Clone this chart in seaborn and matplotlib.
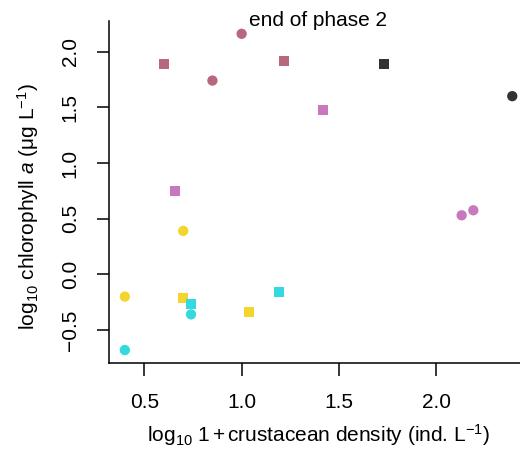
import matplotlib
matplotlib.use("Agg")
import matplotlib.pyplot as plt
import seaborn as sns
import pandas as pd

# ---- data ----
x_vals = [0.60, 1.22, 1.00, 0.85,
          1.73, 2.39,
          1.42, 0.66, 2.13, 2.19,
          0.70, 1.04, 0.70, 0.40,
          0.74, 1.19, 0.74, 0.40]
y_vals = [1.89, 1.92, 2.16, 1.74,
          1.89, 1.60,
          1.48, 0.75, 0.53, 0.575,
          -0.21, -0.34, 0.39, -0.20,
          -0.27, -0.16, -0.36, -0.68]
groups = ["rose"] * 4 + ["black"] * 2 + ["pink"] * 4 + ["yellow"] * 4 + ["cyan"] * 4
shapes = ["square", "square", "circle", "circle",
          "square", "circle",
          "square", "square", "circle", "circle",
          "square", "square", "circle", "circle",
          "square", "square", "circle", "circle"]
palette = {"rose": "#b8687c", "black": "#333333", "pink": "#c878bf",
           "yellow": "#f3d52e", "cyan": "#33d9df"}
x_ticks = [0.5, 1.0, 1.5, 2.0]
y_ticks = [-0.5, 0.0, 0.5, 1.0, 1.5, 2.0]
title = "end of phase 2"

df = pd.DataFrame({"x": x_vals, "y": y_vals, "group": groups, "shape": shapes})

sns.set_theme(style="white")
plt.rcParams["font.family"] = ["Liberation Sans", "DejaVu Sans"]
plt.rcParams["mathtext.fontset"] = "custom"
plt.rcParams["mathtext.rm"] = "Liberation Sans"
plt.rcParams["mathtext.it"] = "Liberation Sans:italic"
plt.rcParams["mathtext.sf"] = "Liberation Sans"
plt.rcParams["text.color"] = "black"
plt.rcParams["axes.labelcolor"] = "black"
plt.rcParams["xtick.color"] = "black"
plt.rcParams["ytick.color"] = "black"

W, H = 520, 451
fig = plt.figure(figsize=(W / 100, H / 100), dpi=100)
ax = fig.add_axes([109 / W, (H - 362.5) / H, (W - 109) / W, (362.5 - 21) / H])

for shp, mk, size in [("circle", "o", 55), ("square", "s", 52)]:
    sub = df[df["shape"] == shp]
    sns.scatterplot(data=sub, x="x", y="y", hue="group", palette=palette,
                    marker=mk, s=size, linewidth=0, legend=False, ax=ax,
                    clip_on=False, zorder=3)

ax.set_xlim(0.3187, 2.4297)
ax.set_ylim(-0.792, 2.275)
ax.set_xticks(x_ticks)
ax.set_yticks(y_ticks)
ax.set_xticklabels([f"{v:.1f}" for v in x_ticks])
ax.set_yticklabels([f"{v:.1f}".replace("-", "\u2212") for v in y_ticks],
                   rotation=90, va="center")
ax.set_xlabel("")
ax.set_ylabel("")

for side in ["top", "right"]:
    ax.spines[side].set_visible(False)
for side in ["left", "bottom"]:
    ax.spines[side].set_color("black")
    ax.spines[side].set_linewidth(1.1)
ax.tick_params(axis="both", direction="out", length=9, width=1.1,
               color="black", labelsize=15, labelcolor="black",
               left=True, bottom=True)
ax.tick_params(axis="x", pad=13)
ax.tick_params(axis="y", pad=12)
ax.grid(False)

fig.text(318 / W, 1 - 20 / H, title, ha="center", va="center", fontsize=15,
         color="black")
fig.text(319 / W, 1 - 435 / H,
         r"$\mathregular{log_{10}}$ 1$\,$+$\,$crustacean density (ind. L$^{\mathregular{-1}}$)",
         ha="center", va="center", fontsize=15, color="black")
fig.text(28 / W, 1 - 207 / H,
         r"$\mathregular{log_{10}}$ chlorophyll $a$ ($\mathregular{\mu}$g L$^{\mathregular{-1}}$)",
         ha="center", va="center", rotation=90, fontsize=15, color="black")

fig.savefig("out.png", dpi=100)
